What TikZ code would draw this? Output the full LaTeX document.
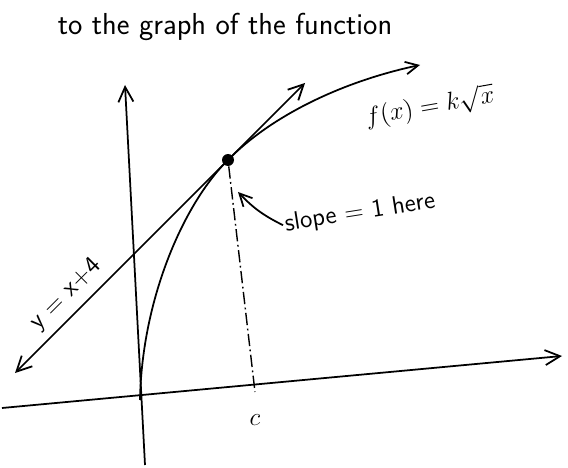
\documentclass[tikz,border=0pt]{standalone}
\usepackage{tikz}
\usetikzlibrary{arrows.meta}
\tikzset{
  ax/.style    ={line width=1pt, -{Straight Barb[length=3mm,width=3mm]}},
  ar/.style    ={line width=1pt, -{Straight Barb[length=2.5mm,width=2.5mm]}},
  dbl/.style   ={line width=1pt, {Straight Barb[length=3mm,width=3mm]}-{Straight Barb[length=3mm,width=3mm]}},
  drop/.style  ={line width=0.8pt, dash pattern=on 7pt off 2pt on 1pt off 2pt},
  tag/.style   ={font=\sffamily\Large, inner sep=1pt},
  title/.style ={font=\sffamily\LARGE, inner sep=1pt}
}
\begin{document}
\begin{tikzpicture}[x=0.02cm,y=0.02cm]
\useasboundingbox (0,0) rectangle (568,467);
\coordinate (o)  at (140,67);
\coordinate (yb) at (145,2);
\coordinate (yt) at (125,382);
\coordinate (xl) at (2,59);
\coordinate (xr) at (562,111);
\coordinate (lo) at (15,94);
\coordinate (hi) at (305,384);
\coordinate (fe) at (420,402);
\coordinate (c)  at (255,75);
\coordinate (tip) at (238,275);

\node[title] (head) at (225,440) {to the graph of the function};

\draw[ax] (yb) -- (yt);
\draw[ax] (xl) -- (xr);

% tangent line through the marked point
\draw[dbl] (lo) -- (hi);
\node[tag, rotate=45] (tl) at (66,172) {y = x+4};

% the curve, steep near the origin
\draw[ar] (o) .. controls (142,170) and (185,265) .. (228,307)
              .. controls (270,350) and (340,385) .. (fe);
\node[tag, rotate=10] (fl) at (430,360) {$f(x)=k\sqrt{x}$};

\node[circle, fill, inner sep=0pt, minimum size=0.24cm] (p) at (228,307) {};
\draw[drop] (p) -- (c);
\node[tag] (cl) at (255,47) {$c$};

\node[tag, rotate=9] (sl) at (360,254) {slope = 1 here};
\draw[ar] (sl.west) to[bend left=10] (tip);
\end{tikzpicture}
\end{document}
